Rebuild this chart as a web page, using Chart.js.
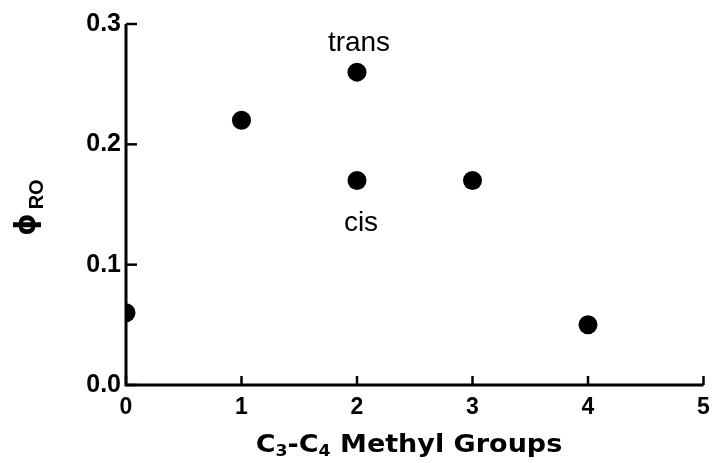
<!DOCTYPE html>
<html>
<head>
<meta charset="utf-8">
<script src="https://cdn.jsdelivr.net/npm/chart.js@4"></script>
<style>
  html, body { margin: 0; padding: 0; background: #fff; }
  #wrap { width: 713px; height: 463px; position: relative; }
</style>
</head>
<body>
<div id="wrap"><canvas id="c" width="713" height="463"></canvas></div>
<script>
// Quantum yield of RO vs. number of C3-C4 methyl groups
const methylGroups = [0, 1, 2, 2, 3, 4];
const phiRO       = [0.06, 0.22, 0.26, 0.17, 0.17, 0.05];
const pointNotes  = ['', '', 'trans', 'cis', '', ''];
const xTicks = [0, 1, 2, 3, 4, 5];
const yTicks = [0.0, 0.1, 0.2, 0.3];

const INK = '#000';
const FONT = '"Liberation Sans", Arial, Helvetica, sans-serif';
const WIDE = '"DejaVu Sans", "Liberation Sans", sans-serif';

// Inward tick marks, axis titles with subscripts, point notes
const decorations = {
  id: 'decorations',
  afterDraw(chart) {
    const ctx = chart.ctx;
    const xs = chart.scales.x, ys = chart.scales.y;
    const a = chart.chartArea;
    ctx.save();
    ctx.strokeStyle = INK;
    ctx.lineWidth = 3;
    ctx.lineCap = 'butt';
    // axes
    ctx.beginPath();
    ctx.moveTo(a.left, a.top);
    ctx.lineTo(a.left, a.bottom);
    ctx.lineTo(a.right, a.bottom);
    ctx.stroke();
    // inward ticks
    ctx.lineWidth = 2.5;
    yTicks.forEach(v => {
      const y = ys.getPixelForValue(v);
      ctx.beginPath(); ctx.moveTo(a.left, y); ctx.lineTo(a.left + 11, y); ctx.stroke();
    });
    xTicks.forEach(v => {
      const x = xs.getPixelForValue(v);
      ctx.beginPath(); ctx.moveTo(x, a.bottom); ctx.lineTo(x, a.bottom - 9); ctx.stroke();
    });

    ctx.fillStyle = INK;
    ctx.textBaseline = 'alphabetic';

    // x title: C3-C4 Methyl Groups (slightly widened heavy face)
    const parts = [
      ['C', 'bold 25px ' + WIDE, 0],
      ['3', 'bold 16px ' + WIDE, 4],
      ['-C', 'bold 25px ' + WIDE, 0],
      ['4', 'bold 16px ' + WIDE, 4],
      [' Methyl Groups', 'bold 25px ' + WIDE, 0]
    ];
    const stretch = 1.08;
    let total = 0;
    parts.forEach(p => { ctx.font = p[1]; total += ctx.measureText(p[0]).width; });
    ctx.save();
    ctx.translate(409 - total * stretch / 2, 452);
    ctx.scale(stretch, 1);
    ctx.textAlign = 'left';
    let cx = 0;
    parts.forEach(p => {
      ctx.font = p[1];
      ctx.fillText(p[0], cx, p[2]);
      cx += ctx.measureText(p[0]).width;
    });
    ctx.restore();

    // y title: phi with RO subscript, rotated
    ctx.save();
    ctx.translate(35, (a.top + a.bottom) / 2 + 3);
    ctx.rotate(-Math.PI / 2);
    ctx.font = 'bold 28px ' + WIDE;
    const w1 = ctx.measureText('\u03D5').width;
    ctx.font = 'bold 20px ' + FONT;
    const w2 = ctx.measureText('RO').width;
    const gap = 4;
    let tx = -(w1 + gap + w2) / 2;
    ctx.font = 'bold 28px ' + WIDE;
    ctx.fillText('\u03D5', tx, 0);
    ctx.font = 'bold 20px ' + FONT;
    ctx.fillText('RO', tx + w1 + gap, 8);
    ctx.restore();

    // point notes
    ctx.font = '28px ' + FONT;
    ctx.textAlign = 'center';
    pointNotes.forEach((t, i) => {
      if (!t) return;
      const px = xs.getPixelForValue(methylGroups[i]);
      const py = ys.getPixelForValue(phiRO[i]);
      if (t === 'trans') ctx.fillText(t, px + 2, py - 21);
      else ctx.fillText(t, px + 4, py + 51);
    });
    ctx.restore();
  }
};

new Chart(document.getElementById('c'), {
  type: 'scatter',
  data: {
    datasets: [{
      data: methylGroups.map((x, i) => ({ x, y: phiRO[i] })),
      backgroundColor: INK,
      borderColor: INK,
      pointRadius: 9.5,
      pointHoverRadius: 9.5,
      borderWidth: 0
    }]
  },
  options: {
    responsive: false,
    animation: false,
    events: [],
    layout: { padding: { left: 0, right: 0, top: 24, bottom: 0 } },
    plugins: { legend: { display: false }, tooltip: { enabled: false } },
    scales: {
      x: {
        type: 'linear', min: 0, max: 5,
        afterBuildTicks: s => { s.ticks = xTicks.map(v => ({ value: v })); },
        afterFit: s => { s.height = 78; s.paddingLeft = 0; s.paddingRight = 8; },
        grid: { display: false, drawTicks: false },
        border: { display: false },
        ticks: {
          padding: 9, color: INK,
          font: { family: FONT, size: 23, weight: 'bold' },
          callback: v => String(v)
        }
      },
      y: {
        type: 'linear', min: 0, max: 0.3,
        afterBuildTicks: s => { s.ticks = yTicks.map(v => ({ value: v })); },
        afterFit: s => { s.width = 126; s.paddingTop = 0; s.paddingBottom = 0; },
        grid: { display: false, drawTicks: false },
        border: { display: false },
        ticks: {
          padding: 5, color: INK,
          font: { family: FONT, size: 25, weight: 'bold' },
          callback: v => Number(v).toFixed(1)
        }
      }
    }
  },
  plugins: [decorations]
});
</script>
</body>
</html>
